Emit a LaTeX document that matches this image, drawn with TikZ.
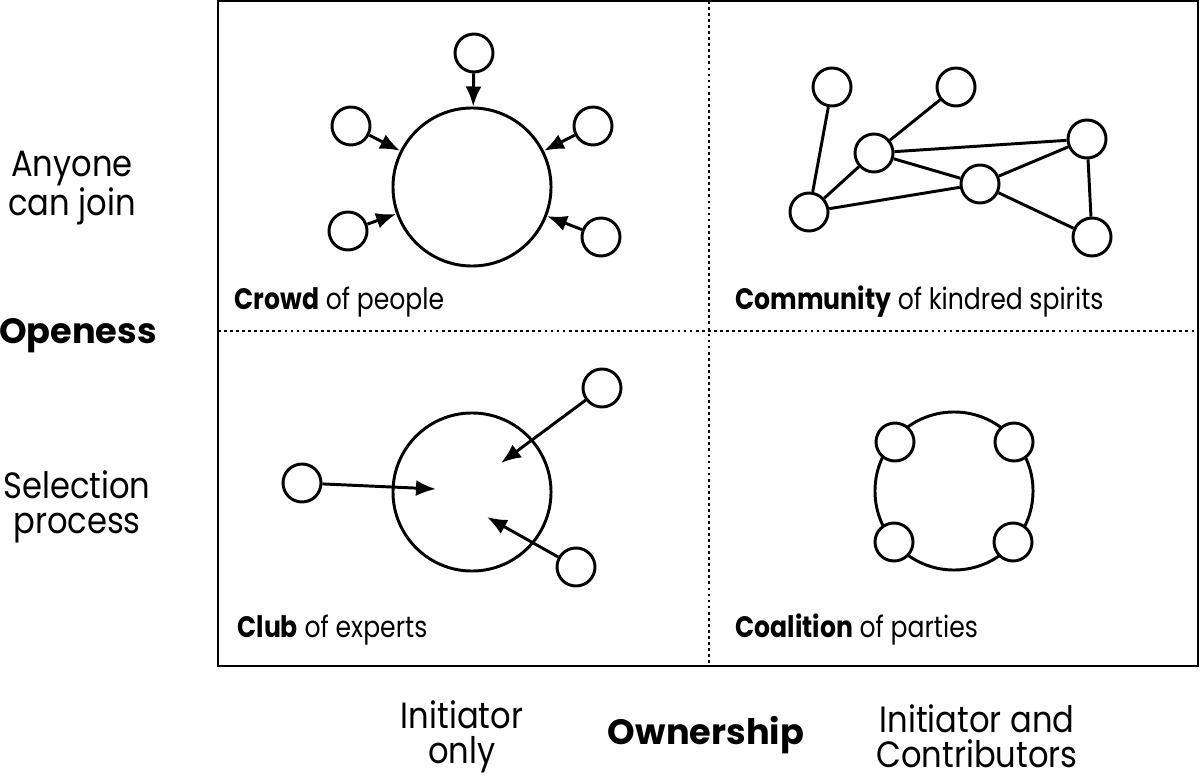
\documentclass[tikz,border=0pt]{standalone}
\usepackage{fontspec}
\setmainfont{Poppins}
\newfontfamily\slimfont{Poppins}[FakeStretch=0.85]
\newfontfamily\axisfont{Poppins}[FakeStretch=0.88]
\usetikzlibrary{arrows.meta}

\begin{document}
\begin{tikzpicture}[x=0.025cm, y=-0.025cm, line width=2.1pt]
        \tikzstyle{member} = [circle, draw, minimum size=0.95cm, inner sep=0pt]
        \tikzstyle{hub} = [circle, draw, minimum size=3.95cm, inner sep=0pt]
        \tikzstyle{inflow} = [draw, -{Latex[length=0.5cm, width=0.4cm]}]
        \tikzstyle{axislabel} = [align=center, inner sep=0pt, font=\axisfont\fontsize{26}{25}\selectfont]
        \tikzstyle{axistitle} = [inner sep=0pt, font=\fontsize{25}{25}\selectfont\bfseries]
        \tikzstyle{quadtag} = [anchor=base west, inner sep=0pt, font=\slimfont\fontsize{21}{21}\selectfont]
        \tikzstyle{divider} = [dash pattern=on 2pt off 2.3pt]

        \useasboundingbox (0,0) rectangle (1200,780);

        % frame and quadrants
        \draw (218,1) rectangle (1198,666);
        \draw [divider] (709,1) -- (709,666);
        \draw [divider] (218,331) -- (1198,331);

        % axis labels
        \node [axislabel] (open) at (72,188) {Anyone\\can join};
        \node [axistitle] (openess) at (78,336) {Openess};
        \node [axislabel] (select) at (77,507) {Selection\\process};
        \node [axislabel] (only) at (462,737) {Initiator\\only};
        \node [axistitle] (owner) at (706,735) {Ownership};
        \node [axislabel] (contrib) at (977,736) {Initiator and\\Contributors};

        % crowd
        \node [hub] (crowd) at (472,187) {};
        \node [member] (cr1) at (474,53) {};
        \node [member] (cr2) at (351,126) {};
        \node [member] (cr3) at (593,126) {};
        \node [member] (cr4) at (348,231) {};
        \node [member] (cr5) at (601,237) {};
        \foreach \m in {cr1,cr2,cr3,cr4,cr5}
            \path [inflow] (\m) -- (crowd);
        \node [quadtag] (crowdtag) at (233,309) {\textbf{Crowd} of people};

        % community
        \node [member] (co1) at (832,87) {};
        \node [member] (co2) at (956,87) {};
        \node [member] (co3) at (874,153) {};
        \node [member] (co4) at (1087,139) {};
        \node [member] (co5) at (980,184) {};
        \node [member] (co6) at (809,212) {};
        \node [member] (co7) at (1092,237) {};
        \foreach \a/\b in {co1/co6, co2/co3, co3/co4, co3/co5, co3/co6, co6/co5, co5/co4, co5/co7, co4/co7}
            \draw (\a) -- (\b);
        \node [quadtag] (commtag) at (734,309) {\textbf{Community} of kindred spirits};

        % club
        \node [hub] (club) at (472,492) {};
        \node [member] (cl1) at (302,483) {};
        \node [member] (cl2) at (602,388) {};
        \node [member] (cl3) at (576,567) {};
        \coordinate (in1) at (436,489);
        \coordinate (in2) at (501,463);
        \coordinate (in3) at (487,517);
        \path [inflow] (cl1) -- (in1);
        \path [inflow] (cl2) -- (in2);
        \path [inflow] (cl3) -- (in3);
        \node [quadtag] (clubtag) at (236,637) {\textbf{Club} of experts};

        % coalition
        \node [hub] (coal) at (954,491) {};
        \node [member, fill=white] (ca1) at (895,442) {};
        \node [member, fill=white] (ca2) at (1014,442) {};
        \node [member, fill=white] (ca3) at (894,542) {};
        \node [member, fill=white] (ca4) at (1013,542) {};
        \node [quadtag] (coaltag) at (734,637) {\textbf{Coalition} of parties};
    \end{tikzpicture}
\end{document}
